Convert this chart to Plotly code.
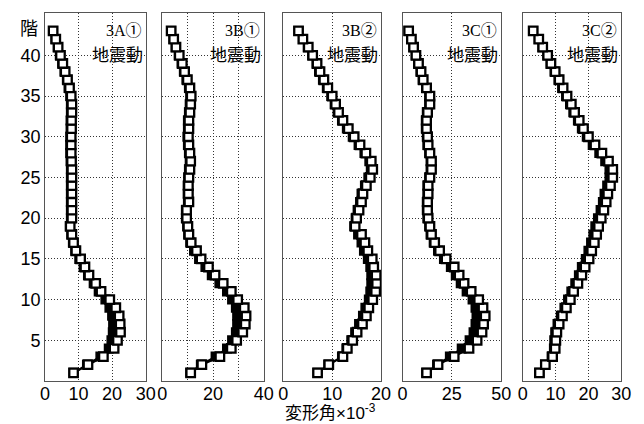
import plotly.graph_objects as go

floors = list(range(1, 44))

titles = ["3A①", "3B①", "3B②", "3C①", "3C②"]
sub_label = "地震動"
x_title = "変形角×10<sup>-3</sup>"
y_label = "階"

# primary series (floors 1..43)
s3A1 = [8.5, 12.8, 17.4, 20.6, 21.6, 22.5, 22.4, 22.1, 21.1, 19.3, 16.7, 15.1, 13.1, 11.9, 10.6,
        9.2, 8.5, 8.0, 7.5, 8.0, 8.0, 8.0, 8.0, 8.0, 8.0, 8.0, 7.9, 7.8, 7.8, 7.8,
        7.9, 7.9, 8.0, 8.0, 7.8, 7.3, 6.7, 6.0, 5.3, 4.6, 3.9, 3.2, 2.4]
s3B1 = [11.2, 15.6, 22.7, 27.2, 29.3, 31.7, 32.7, 33.0, 32.3, 29.7, 27.2, 24.0, 20.8, 18.2, 15.3,
        13.5, 11.4, 10.5, 10.1, 9.6, 9.6, 10.5, 10.3, 10.3, 10.5, 10.9, 11.2, 10.9, 10.5, 10.3,
        10.5, 10.5, 10.9, 11.2, 11.4, 10.9, 9.9, 8.8, 7.9, 6.7, 5.4, 4.5, 3.5]
s3B2 = [7.0, 9.3, 12.2, 13.1, 14.2, 15.1, 16.2, 17.0, 17.5, 18.3, 18.9, 19.1, 19.0, 18.5, 18.2,
        17.3, 16.7, 16.0, 14.7, 15.0, 15.5, 16.0, 16.3, 17.0, 17.8, 18.3, 18.0, 16.9, 15.7, 14.5,
        13.3, 12.2, 11.3, 10.7, 10.0, 9.1, 8.3, 7.5, 6.9, 6.0, 5.1, 4.0, 3.1]
s3C1 = [12.2, 18.0, 26.2, 33.7, 37.8, 40.3, 41.1, 41.9, 40.8, 38.6, 34.8, 31.2, 28.7, 26.2, 22.1,
        18.8, 16.3, 14.7, 13.9, 13.0, 12.7, 12.7, 13.0, 13.0, 13.9, 14.7, 14.7, 13.9, 13.0, 12.7,
        12.2, 12.2, 12.7, 13.9, 13.9, 12.2, 10.5, 9.4, 8.1, 6.8, 5.6, 4.5, 3.1]
s3C2 = [5.1, 6.9, 9.1, 9.9, 10.1, 10.4, 11.1, 12.1, 13.3, 14.5, 15.5, 16.8, 18.0, 19.0, 20.2,
        21.0, 21.8, 22.5, 23.1, 23.9, 24.7, 25.4, 25.9, 26.7, 27.4, 27.4, 26.1, 24.1, 22.0, 20.0,
        18.5, 17.2, 15.8, 14.8, 13.5, 12.3, 11.1, 9.9, 8.6, 7.6, 6.1, 4.9, 3.2]

# secondary (overlapping) series
t3A1 = [8.5, 12.5, 16.5, 19.0, 19.8, 20.2, 20.3, 20.0, 19.2, 18.0, 16.0, 14.5, 12.8, 11.5, 10.2,
        9.0, 8.3, 7.8, 7.4, 7.7, 7.7, 7.7, 7.7, 7.7, 7.7, 7.7, 7.6, 7.5, 7.5, 7.5,
        7.6, 7.6, 7.7, 7.7, 7.5, 7.0, 6.5, 5.8, 5.1, 4.4, 3.8, 3.1, 2.4]
t3B1 = [11.0, 15.2, 21.0, 25.5, 27.5, 29.0, 29.5, 29.5, 29.0, 27.5, 25.5, 22.5, 19.5, 17.0, 14.5,
        12.5, 11.0, 10.2, 9.8, 9.3, 9.3, 10.1, 10.0, 10.0, 10.2, 10.5, 10.8, 10.5, 10.1, 9.9,
        10.1, 10.1, 10.5, 10.8, 11.0, 10.5, 9.5, 8.5, 7.6, 6.5, 5.3, 4.4, 3.5]
t3B2 = [7.0, 9.2, 12.0, 12.9, 13.9, 14.7, 15.5, 16.3, 16.8, 17.5, 17.8, 18.0, 18.0, 17.8, 17.3,
        16.5, 16.0, 15.3, 14.5, 14.8, 15.2, 15.7, 16.0, 16.7, 17.4, 17.9, 17.6, 16.6, 15.4, 14.2,
        13.0, 12.0, 11.1, 10.5, 9.8, 8.9, 8.1, 7.3, 6.8, 5.9, 5.0, 4.0, 3.1]
t3C1 = [12.0, 17.5, 24.0, 30.0, 34.0, 36.0, 37.0, 37.5, 37.0, 35.5, 32.5, 29.5, 27.0, 24.5, 21.0,
        18.0, 15.8, 14.2, 13.5, 12.6, 12.3, 12.3, 12.6, 12.6, 13.5, 14.2, 14.2, 13.5, 12.6, 12.3,
        11.8, 11.8, 12.3, 13.5, 13.5, 11.9, 10.2, 9.1, 7.9, 6.7, 5.5, 4.4, 3.1]
t3C2 = [5.1, 6.8, 8.8, 9.5, 9.6, 9.9, 10.6, 11.6, 12.7, 13.8, 14.8, 16.0, 17.1, 18.0, 19.2,
        20.0, 20.8, 21.5, 22.1, 22.9, 23.7, 24.4, 24.9, 25.7, 26.4, 26.4, 25.1, 23.3, 21.3, 19.5,
        18.0, 16.8, 15.4, 14.4, 13.2, 12.0, 10.9, 9.7, 8.5, 7.5, 6.0, 4.9, 3.2]

primary = [s3A1, s3B1, s3B2, s3C1, s3C2]
secondary = [t3A1, t3B1, t3B2, t3C1, t3C2]

x_ranges = [[0, 30], [0, 40], [0, 20], [0, 50], [0, 30]]
x_tickvals = [[0, 10, 20, 30], [0, 10, 20, 30, 40], [0, 10, 20], [0, 25, 50], [0, 10, 20, 30]]
x_ticktext = [["0", "10", "20", "30"], ["0", "", "20", "", "40"], ["0", "10", "20"],
              ["0", "25", "50"], ["0", "10", "20", "30"]]
y_tickvals = [5, 10, 15, 20, 25, 30, 35, 40]

W, H = 644, 424
panel_px = [(41, 144), (161, 265), (285, 385), (407, 508), (530, 631)]
y_dom = [(H - 381) / H, (H - 13) / H]

fig = go.Figure()
layout = dict(
    width=W, height=H, margin=dict(l=0, r=0, t=0, b=0),
    paper_bgcolor="white", plot_bgcolor="white", showlegend=False,
    font=dict(family="Liberation Sans, Noto Sans CJK JP", size=18, color="black"),
)
annotations = []
for i in range(5):
    n = "" if i == 0 else str(i + 1)
    xa, ya = "x" + n, "y" + n
    fig.add_trace(go.Scatter(
        x=secondary[i], y=floors, xaxis=xa, yaxis=ya, mode="lines+markers",
        line=dict(color="black", width=2),
        marker=dict(symbol="square", size=8.5, color="black", line=dict(color="black", width=1.5)),
        hoverinfo="skip"))
    fig.add_trace(go.Scatter(
        x=primary[i], y=floors, xaxis=xa, yaxis=ya, mode="lines+markers",
        line=dict(color="black", width=2),
        marker=dict(symbol="square", size=8.5, color="white", line=dict(color="black", width=2.3))))
    l, r = panel_px[i]
    layout["xaxis" + n] = dict(
        domain=[l / W, r / W], range=x_ranges[i], anchor=ya,
        tickvals=x_tickvals[i], ticktext=x_ticktext[i], ticks="",
        ticklabelstandoff=-4,
        showgrid=True, gridcolor="#333", griddash="1px,2px", gridwidth=1,
        showline=True, linecolor="#555", linewidth=1, mirror=True, zeroline=False,
        tickfont=dict(size=18, family="Liberation Sans"))
    layout["yaxis" + n] = dict(
        domain=y_dom, range=[0, 45.2], anchor=xa,
        tickvals=y_tickvals, ticks="", showticklabels=(i == 0),
        showgrid=True, gridcolor="#333", griddash="1px,2px", gridwidth=1,
        showline=True, linecolor="#555", linewidth=1, mirror=True, zeroline=False,
        tickfont=dict(size=18, family="Liberation Sans"))
    annotations.append(dict(
        x=(r - 2) / W, y=(H - 30) / H, xref="paper", yref="paper", xanchor="right", yanchor="middle",
        text=titles[i], showarrow=False,
        font=dict(size=16, family="Liberation Serif, Noto Sans CJK JP", color="black")))
    annotations.append(dict(
        x=(r - 1) / W, y=(H - 53) / H, xref="paper", yref="paper", xanchor="right", yanchor="middle",
        text=sub_label, showarrow=False,
        font=dict(size=17, family="Noto Sans CJK JP", color="black")))

annotations.append(dict(
    x=333 / W, y=(H - 412) / H, xref="paper", yref="paper", xanchor="center", yanchor="middle",
    text=x_title, showarrow=False,
    font=dict(size=17, family="Liberation Sans, Noto Sans CJK JP", color="black")))
annotations.append(dict(
    x=25 / W, y=(H - 27) / H, xref="paper", yref="paper", xanchor="center", yanchor="middle",
    text=y_label, showarrow=False,
    font=dict(size=18, family="Noto Sans CJK JP", color="black")))
layout["annotations"] = annotations
fig.update_layout(**layout)
fig.write_html("out.html")
